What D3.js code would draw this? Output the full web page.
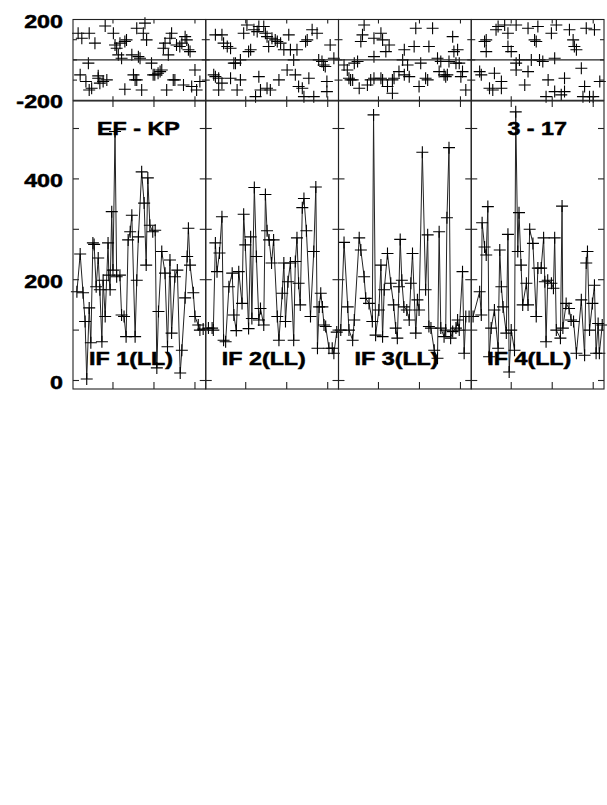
<!DOCTYPE html>
<html><head><meta charset="utf-8">
<script src="https://cdn.jsdelivr.net/npm/d3@7"></script>
<style>html,body{margin:0;padding:0;background:#fff}svg{display:block}</style>
</head><body><div id="chart"></div>
<script>
// ---------- DATA (time in decimal hours, amplitude, phase in degrees) ----------
const ifLabels = ["IF 1(LL)", "IF 2(LL)", "IF 3(LL)", "IF 4(LL)"];
const baselineLabel = "EF - KP";
const sourceLabel = "3 - 17";
const timeDomain = [18.025, 21.263];
const timeTicks = [19, 20, 21];
const ampTicks = [0, 100, 200, 300, 400, 500];
const ampTickLabels = [0, 200, 400];
const phaseTicks = [-100, 0, 100];
const phaseTickLabels = [-200, 200];

const ampTime1 = [18.12,18.20,18.27,18.32,18.36,18.42,18.46,18.51,18.54,18.59,18.64,18.68,18.73,18.76,18.81,18.88,18.90,18.93,18.97,19.00,19.05,19.09,19.17,19.21,19.27,19.32,19.37,19.42,19.46,19.54,19.58,19.62,19.70,19.76,19.81,19.85,19.90,19.97,20.03,20.07,20.11,20.19,20.27,20.33,20.39,20.43,20.51,20.57,20.64,20.68,20.76,20.81,20.84,20.88,20.96,21.00,21.08,21.12,21.20];
const amp1 = [176,251,174,117,3,144,75,273,270,186,243,180,77,199,127,273,209,180,335,219,494,206,209,130,127,87,279,295,328,87,199,285,414,352,229,402,308,295,298,25,137,256,213,67,239,94,206,219,15,60,164,246,302,229,174,127,110,100,102];

const ampTime2 = [18.09,18.18,18.21,18.26,18.30,18.36,18.42,18.46,18.51,18.59,18.67,18.71,18.77,18.83,18.91,18.95,18.99,19.07,19.12,19.15,19.21,19.26,19.32,19.36,19.44,19.48,19.52,19.57,19.63,19.68,19.77,19.81,19.89,19.93,19.97,20.03,20.09,20.17,20.21,20.25,20.29,20.33,20.38,20.42,20.48,20.58,20.66,20.71,20.75,20.79,20.83,20.87,20.91,20.95,21.03,21.11,21.15,21.22];
const amp2 = [104,104,100,273,216,253,325,80,77,186,213,130,99,216,153,330,269,103,285,123,383,246,120,143,110,369,297,279,233,279,127,80,173,233,117,196,233,80,236,283,193,150,343,361,297,127,256,384,64,146,173,146,110,107,64,64,54,96];

const ampTime3 = [18.08,18.16,18.25,18.28,18.37,18.41,18.53,18.57,18.65,18.69,18.77,18.85,18.88,18.93,19.01,19.06,19.10,19.14,19.22,19.30,19.37,19.42,19.46,19.50,19.53,19.57,19.62,19.69,19.75,19.79,19.83,19.91,19.95,19.99,20.07,20.15,20.20,20.23,20.28,20.36,20.44,20.48,20.52,20.60,20.64,20.67,20.72,20.76,20.81,20.89,20.93,20.97,21.05,21.09,21.13,21.21];
const amp3 = [100,274,146,100,80,120,283,259,206,163,153,117,527,90,140,229,87,180,252,193,150,104,84,186,280,199,146,140,120,193,252,94,160,140,453,180,289,107,104,60,44,295,104,87,100,323,462,84,97,104,120,100,216,54,127,127];

const ampTime4 = [18.07,18.23,18.27,18.29,18.35,18.39,18.43,18.46,18.51,18.59,18.68,18.72,18.76,18.80,18.88,18.92,18.95,19.00,19.08,19.11,19.16,19.19,19.24,19.28,19.37,19.41,19.45,19.53,19.61,19.65,19.73,19.79,19.82,19.85,19.89,19.98,20.03,20.06,20.10,20.20,20.24,20.26,20.34,20.41,20.46,20.52,20.59,20.71,20.79,20.83,20.86,20.91,20.98,21.03,21.07,21.12,21.15,21.22];
const amp4 = [127,176,130,313,265,249,345,47,104,140,64,259,186,146,94,290,17,100,60,533,256,333,229,150,193,150,300,272,127,223,223,283,196,77,199,193,183,283,100,84,346,104,153,143,120,117,54,160,50,233,256,100,153,189,54,113,54,110];

const phTime1 = [18.15,18.24,18.42,18.56,18.20,18.34,18.40,18.42,18.48,18.64,18.64,18.68,18.76,18.85,18.81,19.01,19.05,19.09,19.13,19.17,19.21,19.29,19.33,19.29,19.46,19.50,19.54,19.58,19.58,19.62,19.66,19.70,19.78,19.74,19.82,19.94,19.98,20.02,20.10,20.15,20.19,20.23,20.27,20.31,20.35,20.39,20.43,20.47,20.51,20.55,20.63,20.68,20.72,20.76,20.80,20.84,20.88,20.92,21.00,21.04,21.12];
const phase1 = [132,107,132,83,-74,-107,-16,-149,-140,-79,-91,-115,-107,-99,168,132,74,58,25,83,8,91,99,-145,25,-74,-99,157,-99,16,8,-149,182,132,99,-16,-74,-74,-66,-58,-50,58,83,-149,25,107,132,-99,-99,74,66,83,-124,115,99,50,41,-132,-50,-149,-107];

const phTime2 = [18.26,18.42,18.46,18.55,18.63,18.71,18.75,18.87,18.95,19.03,19.07,19.12,19.20,19.28,19.32,19.44,19.48,19.52,19.56,19.64,19.72,19.77,19.85,19.93,20.05,20.09,20.17,20.25,20.46,20.50,20.62,20.74,20.78,20.86,20.94,21.06,21.15,18.22,18.26,18.34,18.42,18.34,18.63,18.79,18.87,19.24,19.32,19.36,19.52,19.60,19.81,20.01,20.21,20.29,20.38,20.42,20.54,20.66,20.90,20.98,20.98];
const phase2 = [124,124,83,66,58,-16,-16,0,132,173,41,50,149,140,165,165,132,115,66,107,99,91,83,50,124,50,0,50,91,99,149,132,0,-8,-33,74,8,-74,-83,-91,-115,-149,-91,-149,-99,-182,-83,-149,-140,-149,-99,-50,-74,-132,-140,-182,-91,-182,-25,-107,-157];

const phTime3 = [18.65,18.61,18.57,18.89,19.06,19.10,19.26,19.18,19.63,19.59,19.71,18.89,18.49,18.41,18.16,18.24,18.28,18.32,18.37,18.53,18.73,18.81,18.89,19.06,19.10,19.22,19.34,19.38,19.50,19.63,19.34,19.91,20.32,20.81,19.87,20.23,20.84,20.93,20.03,20.44,20.52,20.72,20.89,20.97,19.75,20.15,20.20,20.48,20.60,20.64,21.01,21.05,19.99,21.13,20.68];
const phase3 = [173,124,91,107,132,99,74,41,50,0,-25,16,-8,-16,-25,-50,-91,-99,-99,-140,-124,-99,-91,-91,-99,-132,-165,-91,-58,-74,-99,157,157,115,66,66,41,50,-16,8,-8,-8,-16,-16,-83,-91,-99,-58,-74,-83,-83,-58,-132,-149,-74];

const phTime4 = [18.68,18.84,19.12,19.41,19.65,20.10,20.42,20.83,21.03,18.63,18.92,18.39,18.35,19.57,19.61,19.98,20.51,20.54,20.59,18.92,19.00,18.39,19.20,19.12,19.49,19.69,19.77,20.06,20.71,18.23,18.27,18.59,19.12,19.41,18.76,19.33,19.90,20.30,21.16,18.47,18.55,18.76,19.85,20.06,20.30,20.22,20.79,20.75,20.91,21.00];
const phase4 = [165,173,173,157,165,173,149,157,149,149,132,99,91,99,91,132,99,66,50,66,41,41,0,-16,0,0,-8,8,-41,-58,-74,-66,-50,-58,-107,-124,-99,-91,-107,-140,-149,-140,-182,-157,-157,-173,-132,-182,-182,-182];

// ---------- LAYOUT ----------
const W = 607, H = 805;
const plotLeft = 73, plotRight = 604;
const panelW = (plotRight - plotLeft) / 4;
const phTop = 19.5, phBot = 100.3, ampTop = 101, ampBot = 389;
const FONT = "'Liberation Sans', Arial, Helvetica, sans-serif";
const SX = 1.26; // horizontal stretch of the original Helvetica output

const svg = d3.select("#chart").append("svg").attr("width", W).attr("height", H);
svg.append("rect").attr("width", W).attr("height", H).attr("fill", "#fff");

const yPh = d3.scaleLinear().domain([-200, 200]).range([phBot, phTop]);
const yAmp = d3.scaleLinear().domain([0, 500]).range([380.5, 128.5]);

const panels = [
  {t: ampTime1, a: amp1, pt: phTime1, p: phase1},
  {t: ampTime2, a: amp2, pt: phTime2, p: phase2},
  {t: ampTime3, a: amp3, pt: phTime3, p: phase3},
  {t: ampTime4, a: amp4, pt: phTime4, p: phase4}
];
const xScales = panels.map((d, i) =>
  d3.scaleLinear().domain(timeDomain).range([plotLeft + i * panelW, plotLeft + (i + 1) * panelW]));

const ink = "#000";
const g = svg.append("g");

// amplitude polyline across all panels
const linePts = [];
panels.forEach((d, i) => d.t.forEach((t, j) => linePts.push([xScales[i](t), yAmp(d.a[j])])));
g.append("path").attr("d", d3.line()(linePts)).attr("fill", "none")
  .attr("stroke", "#222").attr("stroke-width", 1);

function plus(sel, x, y) {
  const s = 6;
  sel.append("path").attr("d", `M${x - s},${y}H${x + s}M${x},${y - s}V${y + s}`)
    .attr("stroke", ink).attr("stroke-width", 1.1).attr("fill", "none");
}

panels.forEach((d, i) => {
  const x = xScales[i];
  d.t.forEach((t, j) => plus(g, x(t), yAmp(d.a[j])));
  d.pt.forEach((t, j) => plus(g, x(t), yPh(d.p[j])));
});

// frames and ticks
const fr = svg.append("g").attr("stroke", "#222").attr("stroke-width", 1.1).attr("fill", "none");
panels.forEach((d, i) => {
  const x = xScales[i];
  const x0 = x.range()[0], x1 = x.range()[1];
  fr.append("rect").attr("x", x0).attr("y", phTop).attr("width", x1 - x0).attr("height", phBot - phTop);
  fr.append("rect").attr("x", x0).attr("y", ampTop).attr("width", x1 - x0).attr("height", ampBot - ampTop);
  fr.append("line").attr("x1", x0).attr("x2", x1).attr("y1", yPh(0)).attr("y2", yPh(0));
  timeTicks.forEach(t => {
    const xx = x(t);
    fr.append("line").attr("x1", xx).attr("x2", xx).attr("y1", phTop).attr("y2", phTop + 4);
    fr.append("line").attr("x1", xx).attr("x2", xx).attr("y1", phBot - 4).attr("y2", ampTop + 6);
    fr.append("line").attr("x1", xx).attr("x2", xx).attr("y1", ampBot - 7).attr("y2", ampBot);
  });
  ampTicks.forEach(v => {
    const yy = yAmp(v);
    fr.append("line").attr("x1", x0).attr("x2", x0 + 6).attr("y1", yy).attr("y2", yy);
    fr.append("line").attr("x1", x1 - 6).attr("x2", x1).attr("y1", yy).attr("y2", yy);
  });
  phaseTicks.forEach(v => {
    const yy = yPh(v);
    fr.append("line").attr("x1", x0).attr("x2", x0 + 4).attr("y1", yy).attr("y2", yy);
    fr.append("line").attr("x1", x1 - 4).attr("x2", x1).attr("y1", yy).attr("y2", yy);
  });
});

function label(txt, x, y, anchor) {
  svg.append("text").attr("transform", `translate(${x},${y}) scale(${SX},1)`)
    .attr("text-anchor", anchor).attr("font-family", FONT).attr("font-weight", "bold")
    .attr("font-size", 18.5).attr("fill", "#000").attr("stroke", "#000").attr("stroke-width", 0.5)
    .text(txt);
}

phaseTickLabels.forEach(v => label(String(v), 63, yPh(v) + 8, "end"));
ampTickLabels.forEach(v => label(String(v), 63, yAmp(v) + 8, "end"));

label(baselineLabel, plotLeft + 24, 135, "start");
label(sourceLabel, plotRight - 37, 135, "end");
ifLabels.forEach((s, i) => label(s, xScales[i].range()[0] + 16, 365, "start"));
</script></body></html>
